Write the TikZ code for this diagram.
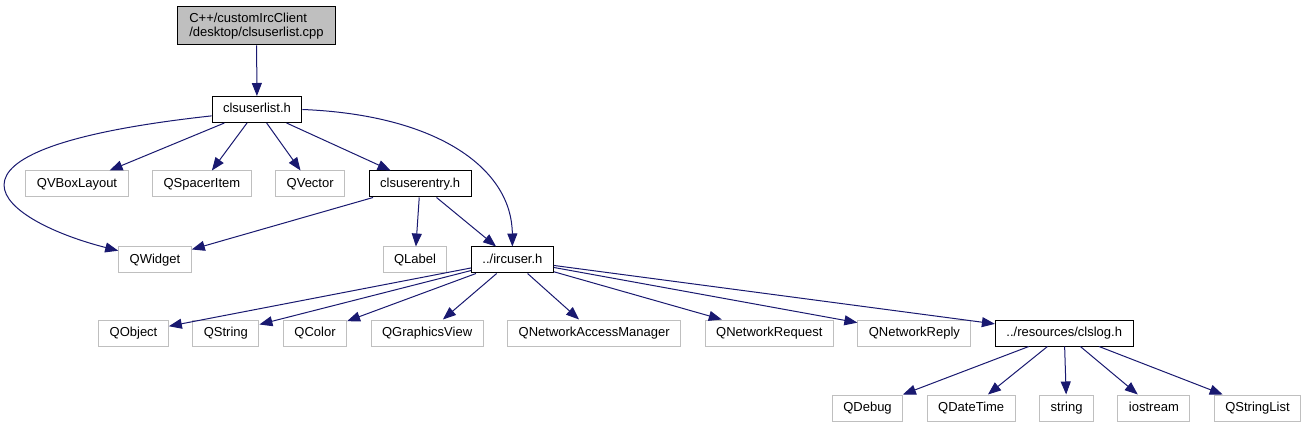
\documentclass[tikz,border=0pt]{standalone}
\usepackage{fontspec}
\setmainfont{Liberation Sans}
\usetikzlibrary{arrows.meta,positioning}
\definecolor{edgeblue}{HTML}{191970}
\definecolor{boxgray}{HTML}{BFBFBF}

\begin{document}
\begin{tikzpicture}[
  x=1pt, y=-1pt,
  font=\fontsize{13}{14.5}\selectfont,
  >={Triangle[length=13pt,width=10pt]},
  node distance=23.5pt,
  header/.style={
    draw=black,
    fill=white,
    line width=1pt,
    minimum height=26pt,
    inner xsep=11pt,
    inner ysep=0pt,
    text height=9.4pt,
    text depth=2.7pt
  },
  extlib/.style={
    header,
    draw=boxgray
  },
  srcfile/.style={
    draw=black,
    fill=boxgray,
    line width=1pt,
    minimum height=38pt,
    inner xsep=11.5pt,
    align=left
  },
  dep/.style={->, draw=edgeblue, line width=1pt}
]

% Page
\fill[white] (0,0) rectangle (1305,427);
\useasboundingbox (0,0) rectangle (1305,427);

% Source file
\node[srcfile] (cpp) at (256.5,26) {C++/customIrcClient\\/desktop/clsuserlist.cpp};
\node[header] (clsuserlist) at (257,109.5) {clsuserlist.h};

% Includes of clsuserlist.h
\node[extlib] (qvboxlayout) at (77,184) {QVBoxLayout};
\node[extlib, right=of qvboxlayout] (qspaceritem) {QSpacerItem};
\node[extlib, right=of qspaceritem] (qvector) {QVector};
\node[header, right=of qvector] (clsuserentry) {clsuserentry.h};

% Includes of clsuserentry.h
\node[extlib] (qwidget) at (155,260) {QWidget};
\node[extlib] (qlabel) at (415,260) {QLabel};
\node[header, right=of qlabel] (ircuser) {../ircuser.h};

% Includes of ircuser.h
\node[extlib] (qobject) at (133.5,333) {QObject};
\node[extlib, right=of qobject] (qstring) {QString};
\node[extlib, right=of qstring] (qcolor) {QColor};
\node[extlib, right=of qcolor] (qgraphicsview) {QGraphicsView};
\node[extlib, right=of qgraphicsview] (qnam) {QNetworkAccessManager};
\node[extlib, right=of qnam] (qnetrequest) {QNetworkRequest};
\node[extlib, right=of qnetrequest] (qnetreply) {QNetworkReply};
\node[header, right=of qnetreply] (clslog) {../resources/clslog.h};

% Includes of clslog.h
\node[extlib] (qdebug) at (867.5,408) {QDebug};
\node[extlib, right=of qdebug] (qdatetime) {QDateTime};
\node[extlib, right=of qdatetime] (string) {string};
\node[extlib, right=of string] (iostream) {iostream};
\node[extlib, right=of iostream] (qstringlist) {QStringList};

% Edges from the top
\draw[dep] (cpp) -- (clsuserlist);
\draw[dep] (clsuserlist) -- (qvboxlayout);
\draw[dep] (clsuserlist) -- (qspaceritem);
\draw[dep] (clsuserlist) -- (qvector);
\draw[dep] (clsuserlist) -- (clsuserentry);
\draw[dep] (clsuserlist.188) .. controls (-100,150) and (5,222) .. (qwidget);
\draw[dep] (clsuserlist.east) .. controls (440,115) and (512,170) .. (ircuser);

% clsuserentry.h
\draw[dep] (clsuserentry) -- (qwidget);
\draw[dep] (clsuserentry) -- (qlabel);
\draw[dep] (clsuserentry) -- (ircuser);

% ircuser.h
\draw[dep] (ircuser) -- (qobject);
\draw[dep] (ircuser) -- (qstring);
\draw[dep] (ircuser) -- (qcolor);
\draw[dep] (ircuser) -- (qgraphicsview);
\draw[dep] (ircuser) -- (qnam);
\draw[dep] (ircuser) -- (qnetrequest);
\draw[dep] (ircuser) -- (qnetreply);
\draw[dep] (ircuser) -- (clslog);

% clslog.h
\draw[dep] (clslog) -- (qdebug);
\draw[dep] (clslog) -- (qdatetime);
\draw[dep] (clslog) -- (string);
\draw[dep] (clslog) -- (iostream);
\draw[dep] (clslog) -- (qstringlist);

\end{tikzpicture}
\end{document}
